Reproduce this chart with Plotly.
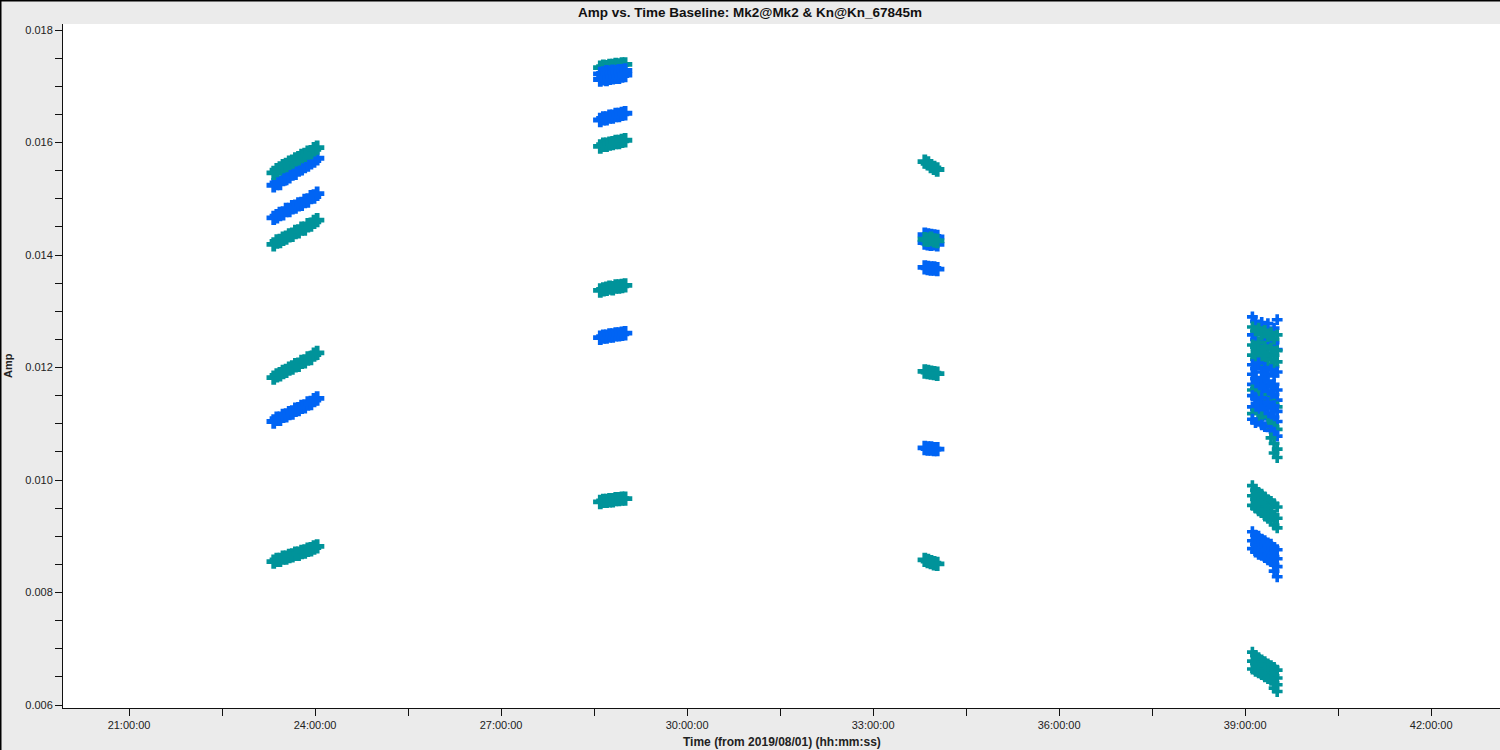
import plotly.graph_objects as go

# colours used by plotms for the two correlations
teal = "#00939a"
blue = "#0064f4"


def hrs(s):
    h, m = s.split(":")
    return int(h) + int(m) / 60.0


# ---- scan 1 (~23:20 - 24:02) ----
scan1_time = ["23:20", "23:23", "23:26", "23:29", "23:32", "23:35", "23:38", "23:41",
              "23:44", "23:47", "23:50", "23:53", "23:56", "23:59", "24:02"]
scan1_blue_u = [0.01524, 0.01528, 0.01528, 0.01535, 0.01537, 0.01540, 0.01545, 0.01546,
                0.01552, 0.01554, 0.01558, 0.01561, 0.01565, 0.01568, 0.01572]
scan1_teal_u = [0.01546, 0.01551, 0.01554, 0.01558, 0.01560, 0.01564, 0.01566, 0.01570,
                0.01572, 0.01576, 0.01578, 0.01582, 0.01583, 0.01588, 0.01591]
scan1_blue_m = [0.01466, 0.01469, 0.01473, 0.01474, 0.01480, 0.01480, 0.01485, 0.01486,
                0.01490, 0.01491, 0.01496, 0.01497, 0.01503, 0.01504, 0.01509]
scan1_teal_m = [0.01419, 0.01424, 0.01425, 0.01429, 0.01431, 0.01435, 0.01436, 0.01441,
                0.01442, 0.01447, 0.01447, 0.01453, 0.01454, 0.01459, 0.01462]
scan1_teal_l = [0.01182, 0.01186, 0.01188, 0.01192, 0.01194, 0.01198, 0.01200, 0.01204,
                0.01205, 0.01210, 0.01211, 0.01216, 0.01217, 0.01223, 0.01226]
scan1_blue_l = [0.01104, 0.01109, 0.01109, 0.01114, 0.01115, 0.01119, 0.01120, 0.01125,
                0.01126, 0.01130, 0.01131, 0.01136, 0.01137, 0.01142, 0.01145]
scan1_teal_b = [0.00855, 0.00858, 0.00858, 0.00862, 0.00862, 0.00865, 0.00866, 0.00869,
                0.00869, 0.00872, 0.00873, 0.00876, 0.00877, 0.00880, 0.00882]

# ---- scan 2 (~28:36 - 29:00) ----
scan2_time = ["28:36", "28:39", "28:42", "28:45", "28:48", "28:51", "28:54", "28:57", "29:00"]
scan2_teal_a = [0.01733, 0.01735, 0.01734, 0.01736, 0.01736, 0.01738, 0.01737, 0.01739, 0.01739]
scan2_blue_a = [0.01722, 0.01723, 0.01725, 0.01724, 0.01726, 0.01725, 0.01727, 0.01727, 0.01728]
scan2_blue_b = [0.01712, 0.01714, 0.01713, 0.01715, 0.01716, 0.01717, 0.01717, 0.01719, 0.01720]
scan2_blue_c = [0.01640, 0.01643, 0.01643, 0.01646, 0.01646, 0.01649, 0.01649, 0.01651, 0.01652]
scan2_teal_c = [0.01593, 0.01596, 0.01596, 0.01598, 0.01599, 0.01601, 0.01601, 0.01603, 0.01604]
scan2_teal_d = [0.01337, 0.01339, 0.01340, 0.01342, 0.01341, 0.01344, 0.01344, 0.01345, 0.01346]
scan2_blue_d = [0.01253, 0.01255, 0.01255, 0.01257, 0.01257, 0.01259, 0.01259, 0.01260, 0.01261]
scan2_teal_e = [0.00961, 0.00963, 0.00963, 0.00964, 0.00964, 0.00966, 0.00966, 0.00967, 0.00967]

# ---- scan 3 (~33:50 - 34:02) ----
scan3_time = ["33:50", "33:53", "33:56", "33:59", "34:02"]
scan3_teal_a = [0.01566, 0.01563, 0.01558, 0.01555, 0.01552]
scan3_blue_b = [0.01436, 0.01435, 0.01434, 0.01433, 0.01432]
scan3_teal_b = [0.01428, 0.01427, 0.01429, 0.01426, 0.01425]
scan3_blue_c = [0.01422, 0.01421, 0.01420, 0.01421, 0.01419]
scan3_blue_d = [0.01378, 0.01377, 0.01376, 0.01376, 0.01375]
scan3_teal_e = [0.01193, 0.01192, 0.01191, 0.01190, 0.01189]
scan3_blue_f = [0.01057, 0.01056, 0.01056, 0.01055, 0.01055]
scan3_teal_g = [0.00858, 0.00856, 0.00854, 0.00852, 0.00851]

# ---- scan 4 (~39:07 - 39:31), noisy ----
scan4_time = ["39:07", "39:10", "39:13", "39:16", "39:19", "39:22", "39:25", "39:28", "39:31"]
scan4_blue_1 = [0.01290, 0.01282, 0.01275, 0.01280, 0.01268, 0.01278, 0.01262, 0.01270, 0.01285]
scan4_blue_2 = [0.01258, 0.01250, 0.01242, 0.01252, 0.01240, 0.01246, 0.01238, 0.01244, 0.01232]
scan4_teal_1 = [0.01272, 0.01265, 0.01270, 0.01258, 0.01266, 0.01255, 0.01262, 0.01250, 0.01258]
scan4_teal_2 = [0.01240, 0.01236, 0.01245, 0.01228, 0.01238, 0.01225, 0.01235, 0.01222, 0.01230]
scan4_teal_3 = [0.01222, 0.01215, 0.01226, 0.01210, 0.01220, 0.01205, 0.01215, 0.01202, 0.01210]
scan4_blue_3 = [0.01205, 0.01198, 0.01208, 0.01192, 0.01200, 0.01188, 0.01196, 0.01185, 0.01192]
scan4_blue_4 = [0.01188, 0.01180, 0.01175, 0.01182, 0.01170, 0.01176, 0.01166, 0.01170, 0.01160]
scan4_blue_5 = [0.01170, 0.01162, 0.01158, 0.01164, 0.01152, 0.01158, 0.01148, 0.01152, 0.01142]
scan4_teal_4 = [0.01160, None, 0.01150, None, 0.01145, 0.01140, None, 0.01135, 0.01130]
scan4_blue_6 = [0.01150, 0.01145, 0.01138, 0.01146, 0.01132, 0.01138, 0.01128, 0.01132, 0.01122]
scan4_blue_7 = [0.01130, 0.01126, 0.01120, 0.01125, 0.01115, 0.01118, 0.01110, 0.01112, 0.01104]
scan4_teal_5 = [0.01118, None, 0.01108, 0.01112, None, 0.01100, 0.01098, 0.01095, 0.01090]
scan4_blue_8 = [0.01108, 0.01102, None, 0.01098, 0.01095, None, 0.01088, 0.01085, 0.01078]
scan4_teal_6 = [None, None, None, None, None, None, 0.01075, 0.01065, 0.01055]
scan4_teal_7 = [None, None, None, None, None, None, None, 0.01048, 0.01040]
scan4_teal_8 = [0.00990, 0.00982, 0.00978, 0.00975, 0.00970, 0.00965, 0.00962, 0.00958, 0.00952]
scan4_teal_9 = [0.00972, 0.00966, 0.00960, 0.00958, 0.00952, 0.00948, 0.00944, 0.00938, 0.00932]
scan4_teal_10 = [0.00955, 0.00950, 0.00945, 0.00942, 0.00936, 0.00932, 0.00928, 0.00920, 0.00915]
scan4_blue_9 = [0.00908, 0.00902, 0.00900, 0.00895, 0.00892, 0.00888, 0.00886, 0.00880, 0.00876]
scan4_blue_10 = [0.00892, 0.00886, 0.00883, 0.00880, 0.00876, 0.00872, 0.00870, 0.00864, 0.00860]
scan4_blue_11 = [0.00878, 0.00872, 0.00868, 0.00866, 0.00862, 0.00858, 0.00855, 0.00850, 0.00846]
scan4_blue_12 = [None, None, None, None, None, None, None, 0.00838, 0.00828]
scan4_teal_11 = [0.00694, 0.00688, 0.00684, 0.00680, 0.00677, 0.00673, 0.00670, 0.00667, 0.00662]
scan4_teal_12 = [0.00678, 0.00674, 0.00670, 0.00666, 0.00664, 0.00660, 0.00656, 0.00652, 0.00648]
scan4_teal_13 = [0.00664, 0.00660, 0.00657, 0.00654, 0.00650, 0.00647, 0.00644, 0.00640, 0.00636]
scan4_teal_14 = [None, None, None, None, None, None, None, 0.00630, 0.00624]

# axis ticks
x_tick_hours = [21, 22.5, 24, 25.5, 27, 28.5, 30, 31.5, 33, 34.5, 36, 37.5, 39, 40.5, 42]
x_tick_labels = ["21:00:00", "", "24:00:00", "", "27:00:00", "", "30:00:00", "",
                 "33:00:00", "", "36:00:00", "", "39:00:00", "", "42:00:00"]
y_tick_vals = [0.006, 0.0065, 0.007, 0.0075, 0.008, 0.0085, 0.009, 0.0095, 0.010, 0.0105,
               0.011, 0.0115, 0.012, 0.0125, 0.013, 0.0135, 0.014, 0.0145, 0.015, 0.0155,
               0.016, 0.0165, 0.017, 0.0175, 0.018]
y_tick_labels = ["0.006", "", "", "", "0.008", "", "", "", "0.010", "", "", "",
                 "0.012", "", "", "", "0.014", "", "", "", "0.016", "", "", "", "0.018"]

# steady scans: drawn with bigger markers so each row reads as one band
steady = [
    (scan1_time, scan1_blue_u, blue), (scan1_time, scan1_teal_u, teal),
    (scan1_time, scan1_blue_m, blue), (scan1_time, scan1_teal_m, teal),
    (scan1_time, scan1_teal_l, teal), (scan1_time, scan1_blue_l, blue),
    (scan1_time, scan1_teal_b, teal),
    (scan2_time, scan2_teal_a, teal), (scan2_time, scan2_blue_a, blue),
    (scan2_time, scan2_blue_b, blue), (scan2_time, scan2_blue_c, blue),
    (scan2_time, scan2_teal_c, teal), (scan2_time, scan2_teal_d, teal),
    (scan2_time, scan2_blue_d, blue), (scan2_time, scan2_teal_e, teal),
    (scan3_time, scan3_teal_a, teal), (scan3_time, scan3_blue_b, blue),
    (scan3_time, scan3_blue_c, blue), (scan3_time, scan3_teal_b, teal),
    (scan3_time, scan3_blue_d, blue), (scan3_time, scan3_teal_e, teal),
    (scan3_time, scan3_blue_f, blue), (scan3_time, scan3_teal_g, teal),
]
noisy = [
    (scan4_blue_1, blue), (scan4_blue_2, blue), (scan4_teal_1, teal),
    (scan4_teal_2, teal), (scan4_teal_3, teal), (scan4_blue_3, blue),
    (scan4_blue_4, blue), (scan4_blue_5, blue), (scan4_teal_4, teal),
    (scan4_blue_6, blue), (scan4_blue_7, blue), (scan4_teal_5, teal),
    (scan4_blue_8, blue), (scan4_teal_6, teal), (scan4_teal_7, teal),
    (scan4_teal_8, teal), (scan4_teal_9, teal), (scan4_teal_10, teal),
    (scan4_blue_9, blue), (scan4_blue_10, blue), (scan4_blue_11, blue),
    (scan4_blue_12, blue),
    (scan4_teal_11, teal), (scan4_teal_12, teal), (scan4_teal_13, teal),
    (scan4_teal_14, teal),
]

fig = go.Figure()
for times, amps, col in steady:
    fig.add_trace(go.Scatter(
        x=[hrs(t) for t in times], y=amps, mode="markers",
        marker=dict(symbol="cross", size=12, color=col, line=dict(width=0)),
        showlegend=False, hoverinfo="skip"))
for amps, col in noisy:
    fig.add_trace(go.Scatter(
        x=[hrs(t) for t in scan4_time], y=amps, mode="markers",
        marker=dict(symbol="cross", size=9, color=col, line=dict(width=0)),
        showlegend=False, hoverinfo="skip"))

font = "Liberation Sans, Arial, sans-serif"
fig.update_layout(
    width=1500, height=750,
    margin=dict(l=63, r=0, t=24, b=42),
    paper_bgcolor="#ebebeb", plot_bgcolor="white",
    font=dict(family=font, size=11, color="#222222"),
    title=dict(text="Amp vs. Time Baseline: Mk2@Mk2 & Kn@Kn_67845m",
               x=0.5, xanchor="center", y=1 - 12 / 750, yanchor="middle",
               font=dict(family=font, size=13.5, color="#111111", weight="bold")),
    xaxis=dict(range=[19.935, 43.11], tickvals=x_tick_hours, ticktext=x_tick_labels,
               showgrid=False, zeroline=False, showline=True, linecolor="#111111",
               linewidth=1, ticks="outside", ticklen=7, tickcolor="#111111",
               tickfont=dict(size=11, color="#222222")),
    yaxis=dict(range=[0.005947, 0.018107], tickvals=y_tick_vals, ticktext=y_tick_labels,
               showgrid=False, zeroline=False, showline=True, linecolor="#111111",
               linewidth=1, ticks="outside", ticklen=7, tickcolor="#111111",
               tickfont=dict(size=11, color="#222222")),
    annotations=[
        dict(text="Time (from 2019/08/01) (hh:mm:ss)", xref="paper", yref="paper",
             x=0.5, y=0, yanchor="middle", yshift=-34, showarrow=False,
             font=dict(family=font, size=12, color="#222222", weight="bold")),
        dict(text="Amp", xref="paper", yref="paper", x=0, y=0.5, xanchor="center",
             xshift=-55, textangle=-90, showarrow=False,
             font=dict(family=font, size=11, color="#222222", weight="bold")),
    ],
    shapes=[
        dict(type="line", xref="paper", yref="paper", x0=-63 / 1437, x1=1,
             y0=1 + 23.5 / 684, y1=1 + 23.5 / 684, line=dict(color="black", width=2)),
        dict(type="line", xref="paper", yref="paper", x0=-62.5 / 1437, x1=-62.5 / 1437,
             y0=-42 / 684, y1=1 + 24 / 684, line=dict(color="black", width=2)),
    ],
)

# the page body has a default 8px margin; drop it so the figure fills the window
fig.write_html("out.html", config={"displayModeBar": False},
               post_script="document.body.style.margin='0px';")
